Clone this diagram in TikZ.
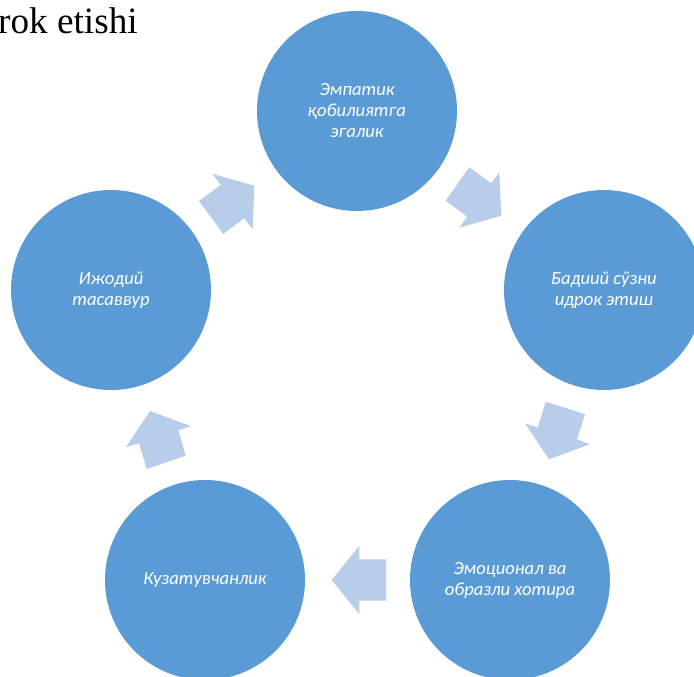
\documentclass[tikz,border=0pt]{standalone}
\usepackage{fontspec}
\setmainfont{Liberation Serif}
\newfontfamily\labelfont{Carlito}
\definecolor{circleblue}{HTML}{5B9BD5}
\definecolor{arrowblue}{HTML}{B7CDE9}
\tikzset{
  x=1pt,y=-1pt,
  stage/.style={circle,fill=circleblue,minimum size=200pt,inner sep=0pt,align=center,text=white,
    font=\labelfont\itshape\fontsize{18.6}{21}\selectfont},
  flow/.style={fill=arrowblue,draw=none},
  heading/.style={anchor=base west,inner sep=0pt,text=black,font=\fontsize{37.2}{40}\selectfont}
}
\begin{document}
\begin{tikzpicture}
\clip (0,0) rectangle (694,677);
\fill[white] (0,0) rectangle (694,677);
\node[heading] (title) at (-2,34) {rok etishi};
\node[stage] (top) at (357,111) {Эмпатик\\қобилиятга\\эгалик};
\node[stage] (right) at (604,290) {Бадиий сўзни\\идрок этиш};
\node[stage] (lowright) at (510,580) {Эмоционал ва\\образли хотира};
\node[stage] (lowleft) at (205,580) {Кузатувчанлик};
\node[stage] (left) at (111,290) {Ижодий\\тасаввур};
\fill[flow] (212.7,174) -- (254.3,185.7) -- (252.7,229) -- (244,218.3) -- (223.3,234) -- (199,201) -- (220.7,185) -- cycle;
\fill[flow] (469.3,167.3) -- (491,183.3) -- (499.3,172.7) -- (501.3,215.7) -- (459.3,227.7) -- (467.3,216.7) -- (445.7,200.7) -- cycle;
\fill[flow] (545.7,401.7) -- (585,414.3) -- (577,439.3) -- (589.7,444.3) -- (549,459.3) -- (525,423.3) -- (537.7,427.7) -- cycle;
\fill[flow] (386,559.3) -- (386,600.7) -- (359.3,600.7) -- (359.3,614) -- (331.7,580) -- (359.3,546) -- (359.3,559.3) -- cycle;
\fill[flow] (150,411) -- (191,426.3) -- (178.3,430) -- (185.7,455.7) -- (146.7,469) -- (139,443.3) -- (126,447) -- cycle;
\end{tikzpicture}
\end{document}
